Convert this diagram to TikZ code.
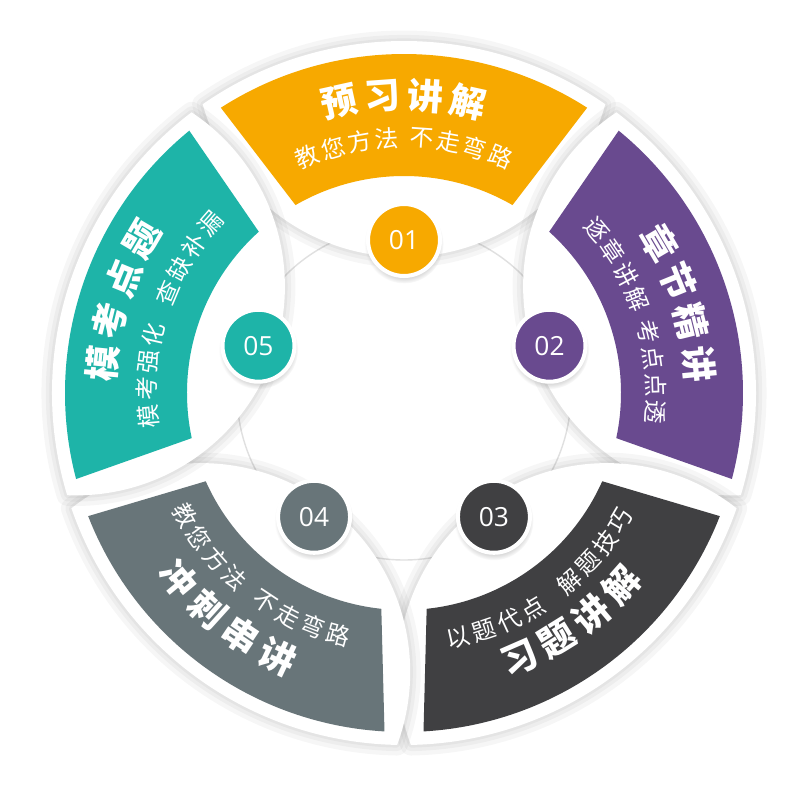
\documentclass[tikz,border=0pt]{standalone}
\usepackage{fontspec}
\newfontfamily\cjk{Noto Sans CJK SC}
\newfontfamily\numfont{Open Sans}
\usetikzlibrary{shadows}

\definecolor{yuxi}{RGB}{247,169,0}
\definecolor{zhangjie}{RGB}{105,74,143}
\definecolor{xiti}{RGB}{64,64,66}
\definecolor{chongci}{RGB}{104,117,121}
\definecolor{mokao}{RGB}{30,180,168}

% bily lupen a barevny pas jednoho dilu
\newcommand{\petal}[1]{(#1+34.88:352) arc[start angle=#1+34.88, end angle=#1-34.88, radius=352] arc[start angle=#1-105.61, end angle=#1-254.39, radius=209] -- cycle}
\newcommand{\band}[1]{(#1+32.7:339) arc[start angle=#1+32.7, end angle=#1-32.7, radius=339] -- (#1-30:217) arc[start angle=#1-30, end angle=#1+30, radius=217] -- cycle}
% ctyri znaky po oblouku kolem stredu
\newcommand{\arcword}[6]{%
  \foreach \ch [count=\i] in {#6} {
    \pgfmathsetmacro{\ang}{#2-(\i-2.5)*(#4)}
    \pgfmathsetmacro{\rot}{\ang-90*(#4)/abs(#4)}
    \node[#5, rotate=\rot] (#1-\i) at (\ang:#3) {\ch};
  }}

\begin{document}
\begin{tikzpicture}[scale=0.02,
    badge/.style={circle, draw=white, line width=2.3pt, minimum size=1.44cm, inner sep=0pt, text=white,
      font=\numfont\fontsize{15}{16}\selectfont,
      circular drop shadow={shadow xshift=0pt, shadow yshift=-2pt, shadow scale=1.1, opacity=0.3}},
    ttl/.style={text=white, inner sep=0pt, font=\cjk\bfseries\fontsize{20.5}{22}\selectfont},
    sub/.style={text=white, inner sep=0pt, font=\cjk\fontsize{13.5}{15}\selectfont}]
        \useasboundingbox (-404,-407) rectangle (396,393);
        \fill[white] (-404,-407) rectangle (396,393);

        % stredni kruh
        \draw[black!12, fill=white, line width=0.8pt] (0,0) circle (167);

        % bile lupeny se stinem
        \foreach \a in {90,18,-54,-126,162} {
            \foreach \w in {12,7,3}
                \draw[black, opacity=0.035, line width=\w pt, line join=round, yshift=-1.5pt] \petal{\a};
            \fill[white] \petal{\a};
        }

        % barevne pasy
        \fill[yuxi] \band{90};
        \fill[zhangjie] \band{18};
        \fill[xiti] \band{-54};
        \fill[chongci] \band{-126};
        \fill[mokao] \band{162};

        % cisla
        \node[badge, fill=yuxi] (n1) at (90:153) {01};
        \node[badge, fill=zhangjie] (n2) at (18:153) {02};
        \node[badge, fill=xiti] (n3) at (-54:153) {03};
        \node[badge, fill=chongci] (n4) at (-126:153) {04};
        \node[badge, fill=mokao] (n5) at (162:153) {05};

        % 01
        \arcword{t1}{90}{298}{8.3}{ttl}{预,习,讲,解}
        \arcword{s1a}{103.1}{255}{6.1}{sub}{教,您,方,法}
        \arcword{s1b}{76.9}{255}{6.1}{sub}{不,走,弯,路}
        % 02
        \arcword{t2}{18}{296}{8.3}{ttl}{章,节,精,讲}
        \arcword{s2a}{31.1}{252}{6.1}{sub}{逐,章,讲,解}
        \arcword{s2b}{4.9}{252}{6.1}{sub}{考,点,点,透}
        % 03
        \arcword{t3}{-54}{290}{-8.3}{ttl}{习,题,讲,解}
        \arcword{s3a}{-68.3}{251}{-6.1}{sub}{以,题,代,点}
        \arcword{s3b}{-39.7}{251}{-6.1}{sub}{解,题,技,巧}
        % 04
        \arcword{t4}{-128}{292}{-8.3}{ttl}{冲,刺,串,讲}
        \arcword{s4a}{-141.6}{251}{-6.1}{sub}{教,您,方,法}
        \arcword{s4b}{-114.4}{251}{-6.1}{sub}{不,走,弯,路}
        % 05
        \arcword{t5}{162}{303}{8.3}{ttl}{模,考,点,题}
        \arcword{s5a}{176}{257}{6.1}{sub}{模,考,强,化}
        \arcword{s5b}{148}{257}{6.1}{sub}{查,缺,补,漏}
    \end{tikzpicture}
\end{document}
